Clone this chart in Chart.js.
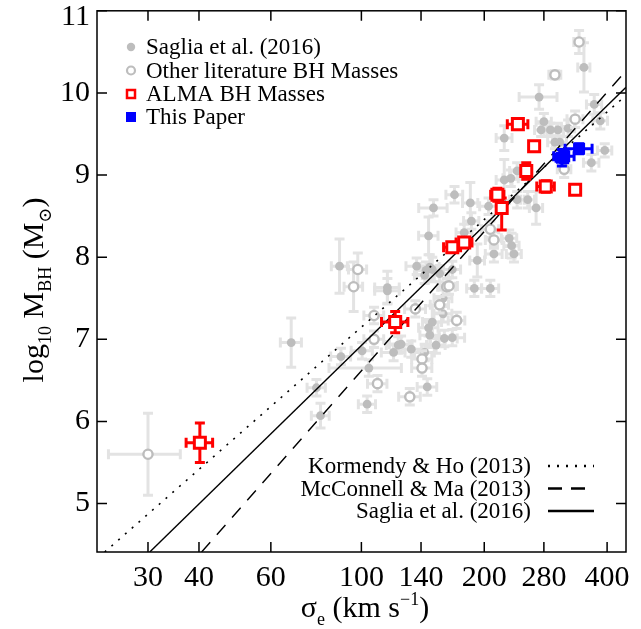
<!DOCTYPE html>
<html>
<head>
<meta charset="utf-8">
<script src="https://cdn.jsdelivr.net/npm/chart.js@4.4.1/dist/chart.umd.min.js"></script>
<style>
  html, body { margin: 0; padding: 0; background: #fff; }
  canvas { display: block; }
</style>
</head>
<body>
<canvas id="msigma" width="641" height="629"></canvas>
<script>
// axis ticks
const xTicks = [30, 40, 60, 100, 140, 200, 280, 400];
const yTicks = [5, 6, 7, 8, 9, 10, 11];

// Saglia et al. (2016) sample (filled grey)
const sagliaSigma = [351, 272.5, 372, 385, 280, 275.7, 290.5, 303, 321, 223.9, 298, 306, 394.7, 366, 223.9, 232.3, 240.8,
  169.1, 184.9, 150.2, 204.9, 240.8, 255.6, 268, 186, 146.1, 178.6, 230.2, 233.4, 211.2, 236.5, 192.3, 189.1, 207, 147.1, 144,
  88.4, 115.8, 115.8, 136.6, 149.2, 155.5, 142.9, 158.6, 167, 158.6, 149.2, 146.1, 147.1, 167, 159.7, 152.4, 125.1, 123.1, 132.5,
  142.9, 100.4, 119.9, 89.1, 104.3, 145, 77.6, 103.3, 79.4, 67.3];
const sagliaLogM = [10.31, 9.95, 9.86, 9.66, 9.65, 9.55, 9.55, 9.55, 9.57, 9.45, 9.40, 9.40, 9.30, 9.15, 8.94, 8.96, 9.05,
  8.76, 8.66, 8.60, 8.62, 8.70, 8.70, 8.60, 8.44, 8.26, 8.30, 8.23, 8.14, 8.04, 8.04, 7.96, 7.62, 7.62, 7.88, 7.84,
  7.89, 7.63, 7.59, 7.89, 7.85, 7.80, 7.78, 7.50, 7.85, 7.31, 7.21, 7.14, 7.05, 7.02, 7.01, 6.93, 6.94, 6.93, 6.88,
  6.84, 6.86, 6.84, 6.79, 6.65, 6.42, 6.41, 6.21, 6.07, 6.96];
const sagliaSigmaErr = [12, 29, 16, 16, 12, 10, 10, 10, 12, 10, 12, 12, 16, 16, 10, 10, 10,
  8, 8, 12, 10, 10, 10, 10, 8, 8, 8, 10, 10, 10, 10, 8, 8, 10, 8, 8,
  4, 8, 8, 8, 8, 8, 8, 8, 8, 8, 8, 8, 8, 12, 12, 8, 8, 8, 8,
  8, 6, 8, 5, 21, 8, 4, 5, 4, 4];
const sagliaLogMErr = [0.3, 0.15, 0.12, 0.1, 0.1, 0.08, 0.08, 0.08, 0.1, 0.15, 0.08, 0.08, 0.08, 0.1, 0.25, 0.1, 0.1,
  0.1, 0.25, 0.1, 0.1, 0.1, 0.1, 0.2, 0.1, 0.23, 0.1, 0.1, 0.15, 0.1, 0.1, 0.2, 0.1, 0.1, 0.15, 0.1,
  0.33, 0.2, 0.15, 0.1, 0.15, 0.1, 0.1, 0.1, 0.1, 0.1, 0.2, 0.1, 0.15, 0.1, 0.1, 0.1, 0.1, 0.1, 0.1,
  0.1, 0.1, 0.1, 0.1, 0.1, 0.1, 0.1, 0.1, 0.15, 0.3];

// other literature BH masses (open grey)
const otherSigma = [341.5, 298, 334, 314, 207, 211.2, 98, 95.7, 161.8, 163.9, 155.5, 171.2, 107.4, 135.6, 107.4, 140.8, 140.8, 109.5, 131.4, 30];
const otherLogM = [10.62, 10.22, 9.68, 9.07, 8.34, 8.21, 7.85, 7.64, 7.64, 7.65, 7.42, 7.23, 7.29, 7.37, 7.00, 6.76, 6.65, 6.46, 6.30, 5.60];
const otherSigmaErr = [10, 10, 15, 12, 10, 10, 5, 5, 8, 8, 8, 8, 6, 8, 6, 8, 8, 6, 8, 6];
const otherLogMErr = [0.14, 0.05, 0.1, 0.1, 0.1, 0.1, 0.2, 0.3, 0.1, 0.1, 0.1, 0.1, 0.1, 0.1, 0.1, 0.1, 0.1, 0.1, 0.1, 0.5];

// ALMA BH masses (open red)
const almaSigma = [40.2, 121, 167, 178.6, 215.4, 220.7, 253.5, 283, 334, 241.8, 265];
const almaLogM = [5.74, 7.21, 8.12, 8.18, 8.76, 8.60, 9.05, 8.86, 8.82, 9.62, 9.35];
const almaSigmaErr = [3, 9, 8, 8, 8, 0, 0, 14, 0, 14, 0];
const almaLogMErrLo = [0.24, 0.13, 0.06, 0.06, 0.08, 0.27, 0.1, 0.07, 0, 0.05, 0];
const almaLogMErrHi = [0.24, 0.13, 0.06, 0.06, 0.08, 0.12, 0.1, 0.07, 0, 0.05, 0];

// this paper (blue)
const paperSigma = [310, 314, 341.5];
const paperLogM = [9.21, 9.23, 9.32];
const paperSigmaErr = [10, 18, 26];
const paperLogMErr = [0.1, 0.08, 0.06];

// scaling relations, end points
const kormendyHo = [[23.5, 4.41], [445, 9.97]];
const mcConnellMa = [[40.6, 4.41], [445, 10.27]];
const saglia16 = [[30.3, 4.41], [445, 10.07]];

const SERIF = '"Liberation Serif", "DejaVu Serif", serif';
const GREY = '#bdbdbd';
const ERR_GREY = '#e3e3e3';

function points(xs, ys) {
  return xs.map((x, i) => ({ x: x, y: ys[i] }));
}
function errs(sx, lo, hi) {
  return sx.map((s, i) => ({ sx: s, lo: lo[i], hi: hi[i] }));
}
function relation(pts) {
  return pts.map(p => ({ x: p[0], y: p[1] }));
}

// error bars drawn under each dataset's markers
const errorBars = {
  id: 'errorBars',
  beforeDatasetDraw(chart, args) {
    const ds = chart.data.datasets[args.index];
    if (!ds.errors) return;
    const xs = chart.scales.x, ys = chart.scales.y, ctx = chart.ctx;
    const a = chart.chartArea;
    ctx.save();
    ctx.beginPath();
    ctx.rect(a.left, a.top, a.right - a.left, a.bottom - a.top);
    ctx.clip();
    ctx.strokeStyle = ds.errorColor;
    ctx.lineWidth = 3;
    const cap = 5;
    ds.data.forEach((p, i) => {
      const e = ds.errors[i];
      const px = xs.getPixelForValue(p.x), py = ys.getPixelForValue(p.y);
      ctx.beginPath();
      if (e.sx > 0) {
        const x0 = xs.getPixelForValue(p.x - e.sx), x1 = xs.getPixelForValue(p.x + e.sx);
        ctx.moveTo(x0, py); ctx.lineTo(x1, py);
        ctx.moveTo(x0, py - cap); ctx.lineTo(x0, py + cap);
        ctx.moveTo(x1, py - cap); ctx.lineTo(x1, py + cap);
      }
      if (e.lo > 0 || e.hi > 0) {
        const y0 = ys.getPixelForValue(p.y - e.lo), y1 = ys.getPixelForValue(p.y + e.hi);
        ctx.moveTo(px, y0); ctx.lineTo(px, y1);
        ctx.moveTo(px - cap, y0); ctx.lineTo(px + cap, y0);
        ctx.moveTo(px - cap, y1); ctx.lineTo(px + cap, y1);
      }
      ctx.stroke();
    });
    ctx.restore();
  }
};

function drawRuns(ctx, runs, x, y, size, align) {
  const font = r => (r.sub || r.sup ? Math.round(size * 0.6) : size) + 'px ' + SERIF;
  let w = 0;
  runs.forEach(r => { ctx.font = font(r); w += ctx.measureText(r.t).width; });
  let cx = align === 'center' ? x - w / 2 : align === 'right' ? x - w : x;
  ctx.textAlign = 'left';
  ctx.textBaseline = 'alphabetic';
  runs.forEach(r => {
    ctx.font = font(r);
    const dy = r.sub ? size * 0.28 : r.sup ? -size * 0.4 : 0;
    ctx.fillText(r.t, cx, y + dy);
    cx += ctx.measureText(r.t).width;
  });
}

// frame, inward ticks, y labels, axis titles, legends
const decorations = {
  id: 'decorations',
  afterDraw(chart) {
    const ctx = chart.ctx, a = chart.chartArea;
    const xs = chart.scales.x, ys = chart.scales.y;
    ctx.save();
    ctx.strokeStyle = '#000';
    ctx.lineWidth = 1.5;
    ctx.strokeRect(a.left, a.top, a.right - a.left, a.bottom - a.top);
    ctx.beginPath();
    const tl = 10;
    xTicks.forEach(v => {
      const px = xs.getPixelForValue(v);
      ctx.moveTo(px, a.bottom); ctx.lineTo(px, a.bottom - tl);
      ctx.moveTo(px, a.top); ctx.lineTo(px, a.top + tl);
    });
    yTicks.forEach(v => {
      const py = ys.getPixelForValue(v);
      ctx.moveTo(a.left, py); ctx.lineTo(a.left + tl, py);
      ctx.moveTo(a.right, py); ctx.lineTo(a.right - tl, py);
    });
    ctx.stroke();

    // y tick labels
    ctx.fillStyle = '#000';
    ctx.font = '30px ' + SERIF;
    ctx.textAlign = 'right';
    ctx.textBaseline = 'middle';
    yTicks.forEach(v => {
      const py = Math.max(ys.getPixelForValue(v), 17);
      ctx.fillText(String(v), a.left - 7, py);
    });

    // x title
    drawRuns(ctx, [{ t: 'σ' }, { t: 'e', sub: true }, { t: ' (km s' }, { t: '−1', sup: true }, { t: ')' }],
      365, 617, 30, 'center');

    // y title
    ctx.save();
    ctx.translate(43, 290);
    ctx.rotate(-Math.PI / 2);
    drawRuns(ctx, [{ t: 'log' }, { t: '10', sub: true }, { t: ' M' }, { t: 'BH', sub: true },
      { t: ' (M' }, { t: '⊙', sub: true }, { t: ')' }], 0, 0, 30, 'center');
    ctx.restore();

    // legend, top left
    const lx = 131, rows = [47, 70.5, 94, 117];
    ctx.font = '23px ' + SERIF;
    ctx.textAlign = 'left';
    ctx.textBaseline = 'middle';
    const labels = ['Saglia et al. (2016)', 'Other literature BH Masses', 'ALMA BH Masses', 'This Paper'];
    labels.forEach((t, i) => ctx.fillText(t, lx + 15, rows[i] + 1));
    ctx.fillStyle = GREY;
    ctx.beginPath(); ctx.arc(lx, rows[0], 4.2, 0, Math.PI * 2); ctx.fill();
    ctx.strokeStyle = GREY; ctx.lineWidth = 2.2;
    ctx.beginPath(); ctx.arc(lx, rows[1], 4, 0, Math.PI * 2); ctx.stroke();
    ctx.strokeStyle = '#ff0000'; ctx.lineWidth = 2.5;
    ctx.strokeRect(lx - 4, rows[2] - 4, 8, 8);
    ctx.fillStyle = '#0000ff';
    ctx.fillRect(lx - 5, rows[3] - 5, 10, 10);

    // legend, bottom right
    const rx = 531, lrows = [466, 488.5, 511];
    const names = ['Kormendy & Ho (2013)', 'McConnell & Ma (2013)', 'Saglia et al. (2016)'];
    const dashes = [[2, 7], [14, 9], []];
    ctx.fillStyle = '#000';
    ctx.textAlign = 'right';
    names.forEach((t, i) => {
      ctx.fillText(t, rx, lrows[i] + 1);
      ctx.strokeStyle = '#000';
      ctx.lineWidth = 2.5;
      ctx.setLineDash(dashes[i]);
      ctx.beginPath();
      ctx.moveTo(rx + 17, lrows[i]); ctx.lineTo(rx + 63, lrows[i]);
      ctx.stroke();
    });
    ctx.setLineDash([]);
    ctx.restore();
  }
};

const datasets = [
  {
    label: 'This Paper',
    data: points(paperSigma, paperLogM),
    errors: errs(paperSigmaErr, paperLogMErr, paperLogMErr),
    errorColor: '#0000ff',
    pointStyle: 'rect', pointRadius: 8.5, borderWidth: 0,
    backgroundColor: '#0000ff', borderColor: '#0000ff',
    order: 0
  },
  {
    label: 'ALMA BH Masses',
    data: points(almaSigma, almaLogM),
    errors: errs(almaSigmaErr, almaLogMErrLo, almaLogMErrHi),
    errorColor: '#ff0000',
    pointStyle: 'rect', pointRadius: 7.8, borderWidth: 3,
    backgroundColor: '#ffffff', borderColor: '#ff0000',
    order: 1
  },
  {
    label: 'Kormendy & Ho (2013)',
    data: relation(kormendyHo),
    showLine: true, pointRadius: 0, borderColor: '#000', borderWidth: 1.6,
    borderDash: [2, 7], order: 2
  },
  {
    label: 'McConnell & Ma (2013)',
    data: relation(mcConnellMa),
    showLine: true, pointRadius: 0, borderColor: '#000', borderWidth: 1.4,
    borderDash: [13, 10], order: 3
  },
  {
    label: 'Saglia et al. (2016)',
    data: relation(saglia16),
    showLine: true, pointRadius: 0, borderColor: '#000', borderWidth: 1.4,
    order: 4
  },
  {
    label: 'Other literature BH Masses',
    data: points(otherSigma, otherLogM),
    errors: errs(otherSigmaErr, otherLogMErr, otherLogMErr),
    errorColor: ERR_GREY,
    pointStyle: 'circle', pointRadius: 4.6, borderWidth: 2.4,
    backgroundColor: '#ffffff', borderColor: GREY,
    order: 5
  },
  {
    label: 'Saglia et al. (2016) sample',
    data: points(sagliaSigma, sagliaLogM),
    errors: errs(sagliaSigmaErr, sagliaLogMErr, sagliaLogMErr),
    errorColor: ERR_GREY,
    pointStyle: 'circle', pointRadius: 4.4, borderWidth: 0,
    backgroundColor: GREY, borderColor: GREY,
    order: 6
  }
];

new Chart(document.getElementById('msigma').getContext('2d'), {
  type: 'scatter',
  data: { datasets: datasets },
  options: {
    responsive: false,
    animation: false,
    devicePixelRatio: 1,
    layout: { padding: { left: 0, right: 15, top: 7, bottom: 0 } },
    plugins: {
      legend: { display: false },
      tooltip: { enabled: false }
    },
    scales: {
      x: {
        type: 'logarithmic',
        min: 22.5,
        max: 445,
        grid: { display: false },
        border: { display: false },
        afterBuildTicks: s => { s.ticks = xTicks.map(v => ({ value: v })); },
        afterFit: s => { s.height = 77; },
        ticks: {
          autoSkip: false,
          maxRotation: 0,
          padding: 0,
          color: '#000',
          font: { family: SERIF, size: 30 },
          callback: v => String(v)
        }
      },
      y: {
        type: 'linear',
        min: 4.41,
        max: 11.0,
        grid: { display: false },
        border: { display: false },
        afterBuildTicks: s => { s.ticks = yTicks.map(v => ({ value: v })); },
        afterFit: s => { s.width = 97; },
        ticks: { display: false }
      }
    }
  },
  plugins: [errorBars, decorations]
});
</script>
</body>
</html>
